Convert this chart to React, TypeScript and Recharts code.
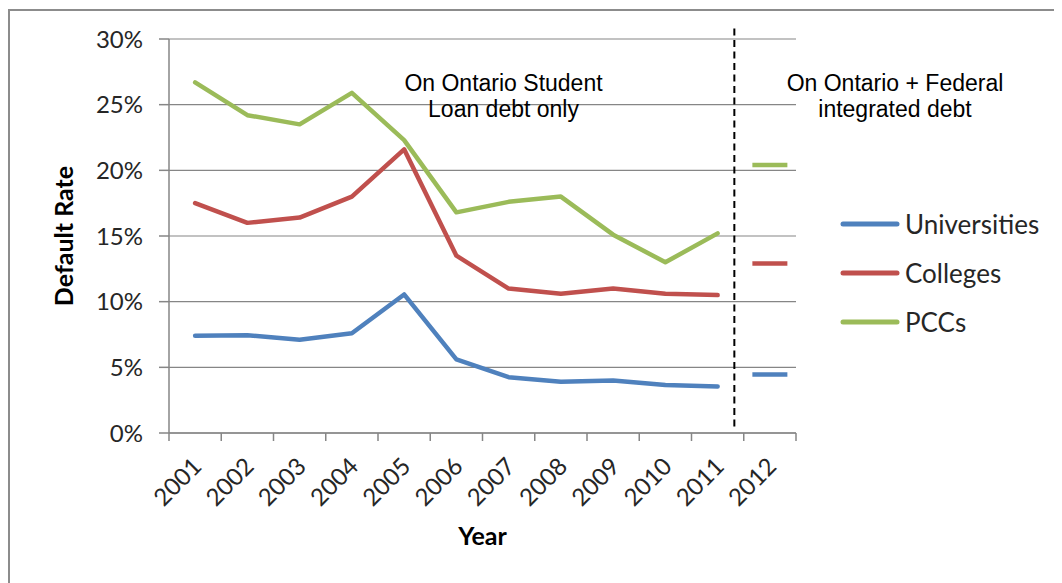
import React from "react";
import {
  LineChart,
  Line,
  XAxis,
  YAxis,
  CartesianGrid,
  ReferenceLine,
  Legend,
  Label,
  Customized,
} from "recharts";

// Ontario student loan default rates by institution type
const years = [2001, 2002, 2003, 2004, 2005, 2006, 2007, 2008, 2009, 2010, 2011, 2012];
const universities = [7.4, 7.45, 7.1, 7.6, 10.55, 5.6, 4.25, 3.9, 4.0, 3.65, 3.55, null];
const colleges = [17.5, 16.0, 16.4, 18.0, 21.6, 13.5, 11.0, 10.6, 11.0, 10.6, 10.5, null];
const pccs = [26.7, 24.2, 23.5, 25.9, 22.3, 16.8, 17.6, 18.0, 15.1, 13.0, 15.2, null];

// 2012 is on integrated (Ontario + Federal) debt, shown as single dashes
const integratedYear = 2012;
const integratedUniversities = 4.45;
const integratedColleges = 12.9;
const integratedPccs = 20.4;

const seriesNames = ["Universities", "Colleges", "PCCs"];
const yTicks = [0, 5, 10, 15, 20, 25, 30];
const dividerYear = 2011.32;
const dividerRange = [0.5, 31.1];

const leftNote = ["On Ontario Student", "Loan debt only"];
const rightNote = ["On Ontario + Federal", "integrated debt"];

const BLUE = "#4F81BD";
const RED = "#C0504D";
const GREEN = "#9BBB59";
const GRID = "#868686";
const TEXT = "#262626";
const FONT = "Lato, 'Noto Sans', sans-serif";

const data = years.map((year, i) => ({
  year,
  universities: universities[i],
  colleges: colleges[i],
  pccs: pccs[i],
  uniInt: year === integratedYear ? integratedUniversities : null,
  colInt: year === integratedYear ? integratedColleges : null,
  pccInt: year === integratedYear ? integratedPccs : null,
}));

// tick marks sit on category boundaries, labels on category centres
const xTicks = [...years.map((y) => y - 0.5), years[years.length - 1] + 0.5].concat(years);

const XTick = (props: any) => {
  const { x, y, payload } = props;
  const v = payload.value;
  if (!Number.isInteger(v)) {
    return <line x1={x} x2={x} y1={y} y2={y + 8} stroke={GRID} strokeWidth={1.5} />;
  }
  const ax = x + 8;
  const ay = y + 35;
  return (
    <text
      x={ax}
      y={ay}
      textAnchor="end"
      transform={`rotate(-45 ${ax} ${ay})`}
      fill={TEXT}
      fontSize={24}
      fontFamily={FONT}
    >
      {v}
    </text>
  );
};

const dash = (color: string) => (p: any) => {
  if (p.value == null || p.cy == null) return <g key={p.key ?? p.index} />;
  return (
    <line
      key={p.key ?? p.index}
      x1={p.cx - 17.5}
      x2={p.cx + 17.5}
      y1={p.cy}
      y2={p.cy}
      stroke={color}
      strokeWidth={4.5}
    />
  );
};

const LegendContent = (props: any) => {
  const { payload = [] } = props;
  const items = seriesNames
    .map((n) => payload.find((e: any) => e.value === n))
    .filter(Boolean);
  return (
    <div style={{ display: "flex", flexDirection: "column" }}>
      {items.map((e: any) => (
        <div key={e.value} style={{ display: "flex", alignItems: "center", height: 48.7 }}>
          <svg width={60} height={10} style={{ display: "block" }}>
            <line x1={3} x2={57} y1={5} y2={5} stroke={e.color} strokeWidth={5} strokeLinecap="round" />
          </svg>
          <span style={{ marginLeft: 5, fontFamily: FONT, fontSize: 26, color: TEXT, lineHeight: "30px", whiteSpace: "nowrap" }}>
            {e.value}
          </span>
        </div>
      ))}
    </div>
  );
};

const Notes = () => (
  <g fontFamily="'Liberation Sans', Arial, sans-serif" fontSize={23} fill="#000" textAnchor="middle">
    <text x={495.5} y={82.7}>{leftNote[0]}</text>
    <text x={495.5} y={108.5}>{leftNote[1]}</text>
    <text x={887} y={82.7}>{rightNote[0]}</text>
    <text x={887} y={108.5}>{rightNote[1]}</text>
  </g>
);

const App = () => {
  return (
    <div style={{ position: "relative", width: 1054, height: 575, overflow: "hidden" }}>
      <div
        style={{
          position: "absolute",
          left: 0,
          top: 1,
          width: 1100,
          height: 640,
          border: "2px solid #8c8c8c",
        }}
      />
      <LineChart
        width={1054}
        height={575}
        data={data}
        margin={{ top: 31, right: 266, bottom: 10, left: 0 }}
        style={{ position: "absolute", left: 0, top: 0 }}
      >
        <CartesianGrid vertical={false} stroke={GRID} strokeWidth={1.2} />
        <XAxis
          dataKey="year"
          type="number"
          domain={[2000.5, 2012.5]}
          ticks={xTicks}
          interval={0}
          height={140}
          tickSize={0}
          tickMargin={0}
          tickLine={false}
          axisLine={{ stroke: GRID, strokeWidth: 1.5 }}
          tick={<XTick />}
        >
          <Label
            content={(p: any) => {
              const vb = p.viewBox;
              return (
                <text
                  x={vb.x + vb.width / 2}
                  y={vb.y + 112}
                  textAnchor="middle"
                  fontFamily={FONT}
                  fontWeight="bold"
                  fontSize={25}
                  fill="#000"
                >
                  Year
                </text>
              );
            }}
          />
        </XAxis>
        <YAxis
          width={161}
          domain={[0, 30]}
          ticks={yTicks}
          interval={0}
          tickFormatter={(v) => `${v}%`}
          tickSize={10}
          tickMargin={16}
          axisLine={{ stroke: GRID, strokeWidth: 1.5 }}
          tickLine={{ stroke: GRID, strokeWidth: 1.5 }}
          tick={{ fill: TEXT, fontSize: 24, fontFamily: FONT }}
        >
          <Label
            content={(p: any) => {
              const vb = p.viewBox;
              const cx = vb.x + 65;
              const cy = vb.y + vb.height / 2;
              return (
                <text
                  x={cx}
                  y={cy}
                  textAnchor="middle"
                  transform={`rotate(-90 ${cx} ${cy})`}
                  fontFamily={FONT}
                  fontWeight="bold"
                  fontSize={25}
                  fill="#000"
                >
                  Default Rate
                </text>
              );
            }}
          />
        </YAxis>
        <ReferenceLine
          segment={[
            { x: dividerYear, y: dividerRange[0] },
            { x: dividerYear, y: dividerRange[1] },
          ]}
          ifOverflow="visible"
          stroke="#000"
          strokeWidth={2}
          strokeDasharray="7 4.5"
        />
        <Line name="Universities" dataKey="universities" stroke={BLUE} strokeWidth={4.5} strokeLinecap="round" strokeLinejoin="round" dot={false} activeDot={false} isAnimationActive={false} />
        <Line name="Colleges" dataKey="colleges" stroke={RED} strokeWidth={4.5} strokeLinecap="round" strokeLinejoin="round" dot={false} activeDot={false} isAnimationActive={false} />
        <Line name="PCCs" dataKey="pccs" stroke={GREEN} strokeWidth={4.5} strokeLinecap="round" strokeLinejoin="round" dot={false} activeDot={false} isAnimationActive={false} />
        <Line dataKey="uniInt" stroke="none" legendType="none" dot={dash(BLUE)} activeDot={false} isAnimationActive={false} />
        <Line dataKey="colInt" stroke="none" legendType="none" dot={dash(RED)} activeDot={false} isAnimationActive={false} />
        <Line dataKey="pccInt" stroke="none" legendType="none" dot={dash(GREEN)} activeDot={false} isAnimationActive={false} />
        <Legend
          layout="horizontal"
          verticalAlign="middle"
          align="center"
          content={<LegendContent />}
          wrapperStyle={{ left: 832, top: 192, width: "auto", height: "auto" }}
        />
        <Customized component={Notes} />
      </LineChart>
    </div>
  );
};

export default App;
